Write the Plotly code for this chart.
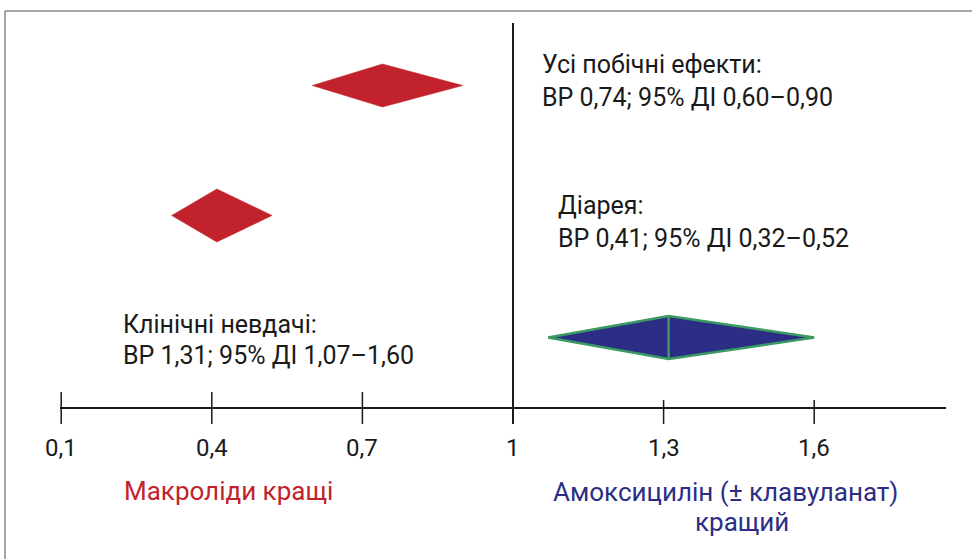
import plotly.graph_objects as go

# Hazard ratios (ВР) with 95% confidence intervals (ДІ)
outcomes = ["Усі побічні ефекти:", "Діарея:", "Клінічні невдачі:"]
hr = [0.74, 0.41, 1.31]
ci_low = [0.60, 0.32, 1.07]
ci_high = [0.90, 0.52, 1.60]

tick_vals = [0.1, 0.4, 0.7, 1.0, 1.3, 1.6]
tick_text = ["0,1", "0,4", "0,7", "1", "1,3", "1,6"]

favours_left = "Макроліди кращі"
favours_right = ["Амоксицилін (± клавуланат)", "кращий"]

# Layout: vertical row centres / half-heights (in px of the 559-high canvas)
row_y = [85.5, 215.5, 337.5]
row_half = [21.5, 26.5, 21.5]
axis_y = 408

RED = "#c1222b"
NAVY = "#2b2e84"
GREEN = "#3a9a62"
INK = "#1a1a1a"
FONT = "Roboto"

W, H = 972, 559
x0_px, scale = 513, 502.0  # pixel of HR = 1 and px per unit
xr = [1 - x0_px / scale, 1 + (W - x0_px) / scale]


def px(xp):
    return xp / W


def fmt(v):
    return f"{v:.2f}".replace(".", ",")


fig = go.Figure()

fills = [RED, RED, NAVY]
for i in range(len(hr)):
    c, h = row_y[i], row_half[i]
    xs = [ci_low[i], hr[i], ci_high[i], hr[i], ci_low[i]]
    ys = [c, c - h, c, c + h, c]
    line = dict(color=GREEN, width=2.5) if i == 2 else dict(color=fills[i], width=0.5)
    fig.add_trace(go.Scatter(x=xs, y=ys, fill="toself", fillcolor=fills[i],
                             mode="lines", line=line, hoverinfo="skip", showlegend=False))
    if i == 2:
        fig.add_trace(go.Scatter(x=[hr[i], hr[i]], y=[c - h, c + h], mode="lines",
                                 line=dict(color=GREEN, width=2.5),
                                 hoverinfo="skip", showlegend=False))

shapes = []
# frame (top and left edges)
shapes.append(dict(type="line", xref="paper", yref="y", x0=px(5), x1=1, y0=11, y1=11,
                   line=dict(color="#a5a5a5", width=2)))
shapes.append(dict(type="line", xref="paper", yref="y", x0=px(5), x1=px(5), y0=11, y1=H,
                   line=dict(color="#a5a5a5", width=2)))
# horizontal axis
shapes.append(dict(type="line", xref="paper", yref="y", x0=px(60), x1=px(946),
                   y0=axis_y, y1=axis_y, line=dict(color=INK, width=2)))
# line of no effect
shapes.append(dict(type="line", xref="x", yref="y", x0=1, x1=1, y0=23, y1=424,
                   line=dict(color=INK, width=2)))
for v in tick_vals:
    if v == 1.0:
        continue
    top = 392 if v < 1 else 400
    shapes.append(dict(type="line", xref="x", yref="y", x0=v, x1=v, y0=top, y1=424,
                       line=dict(color=INK, width=1.5)))

ann = []
for v, t in zip(tick_vals, tick_text):
    ann.append(dict(x=v, y=448, xref="x", yref="y", text=t, showarrow=False,
                    xanchor="center", yanchor="middle",
                    font=dict(family=FONT, size=24, color=INK)))

label_pos = [(540, 64, 97), (556, 205, 238), (121, 324, 355)]
for i, (lx, ly1, ly2) in enumerate(label_pos):
    ann.append(dict(x=px(lx), y=ly1, xref="paper", yref="y", text=outcomes[i],
                    showarrow=False, xanchor="left", yanchor="middle",
                    font=dict(family=FONT, size=25, color=INK)))
    line2 = f"ВР {fmt(hr[i])}; 95% ДІ {fmt(ci_low[i])}–{fmt(ci_high[i])}"
    ann.append(dict(x=px(lx), y=ly2, xref="paper", yref="y", text=line2,
                    showarrow=False, xanchor="left", yanchor="middle",
                    font=dict(family=FONT, size=25, color=INK)))

ann.append(dict(x=px(122), y=491, xref="paper", yref="y", text=favours_left,
                showarrow=False, xanchor="left", yanchor="middle",
                font=dict(family=FONT, size=26, color=RED)))
ann.append(dict(x=px(725), y=492, xref="paper", yref="y", text=favours_right[0],
                showarrow=False, xanchor="center", yanchor="middle",
                font=dict(family=FONT, size=26, color=NAVY)))
ann.append(dict(x=px(742), y=522, xref="paper", yref="y", text=favours_right[1],
                showarrow=False, xanchor="center", yanchor="middle",
                font=dict(family=FONT, size=26, color=NAVY)))

fig.update_layout(
    width=W, height=H,
    margin=dict(l=0, r=0, t=0, b=0),
    paper_bgcolor="white", plot_bgcolor="white",
    xaxis=dict(range=xr, visible=False, fixedrange=True),
    yaxis=dict(range=[H, 0], visible=False, fixedrange=True),
    shapes=shapes, annotations=ann,
    showlegend=False,
)

fig.write_html("out.html")
